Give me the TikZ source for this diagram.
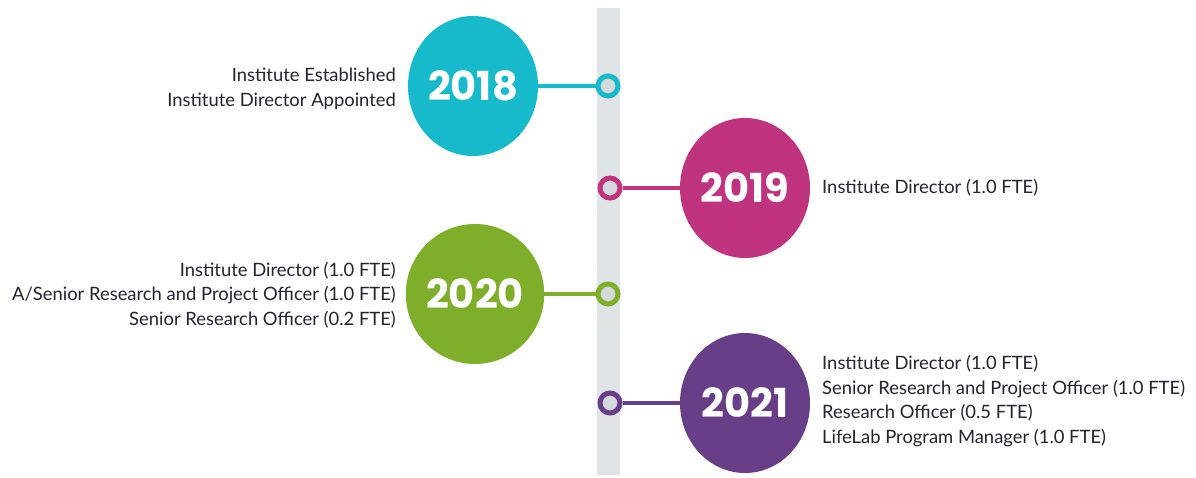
\documentclass[tikz,border=0pt]{standalone}
\usepackage{fontspec}
\setmainfont{Lato}
\newfontfamily\yearfont{Poppins}
\definecolor{bargray}{HTML}{E1E4E7}
\definecolor{ringfill}{HTML}{D5D9DD}
\definecolor{txtdark}{HTML}{24232F}
\definecolor{cTeal}{HTML}{17BACB}
\definecolor{cMag}{HTML}{C0337F}
\definecolor{cGreen}{HTML}{7FAF2A}
\definecolor{cPurple}{HTML}{673E87}
\usetikzlibrary{shapes.geometric}
\tikzset{
  yearbubble/.style={ellipse, minimum width=130pt, minimum height=140pt, inner sep=0pt,
     font=\yearfont\bfseries\fontsize{40}{40}\selectfont, text=white},
  ringdot/.style={circle, minimum size=20pt, inner sep=0pt, line width=5pt, fill=ringfill},
  linkline/.style={line width=4pt},
  infotext/.style={font=\fontsize{18.4}{24.7}\selectfont, text=txtdark, inner sep=0pt, align=#1},
}
\begin{document}
\begin{tikzpicture}[x=1pt,y=-1pt]
\useasboundingbox (0,0) rectangle (1196,477);
\fill[white] (0,0) rectangle (1196,477);
\node[fill=bargray, minimum width=23pt, minimum height=467pt, inner sep=0pt, anchor=north] (bar) at (608.5,8) {};
% 2018
\node[ringdot, draw=cTeal] (r18) at (608,86) {};
\node[yearbubble, fill=cTeal] (y18) at (473,86) {2018};
\draw[linkline, cTeal] (y18.east) -- (r18.west);
\node[infotext=right, anchor=east] (t18) at (396,89) {Institute Established\\Institute Director Appointed};
% 2019
\node[ringdot, draw=cMag] (r19) at (610,188) {};
\node[yearbubble, fill=cMag] (y19) at (745,188) {2019};
\draw[linkline, cMag] (r19.east) -- (y19.west);
\node[infotext=left, anchor=west] (t19) at (822,188) {Institute Director (1.0 FTE)};
% 2020
\node[ringdot, draw=cGreen] (r20) at (608,294) {};
\node[yearbubble, fill=cGreen] (y20) at (475,294) {2020};
\draw[linkline, cGreen] (y20.east) -- (r20.west);
\node[infotext=right, anchor=east] (t20) at (396,295) {Institute Director (1.0 FTE)\\A/Senior Research and Project Officer (1.0 FTE)\\Senior Research Officer (0.2 FTE)};
% 2021
\node[ringdot, draw=cPurple] (r21) at (610,403) {};
\node[yearbubble, fill=cPurple] (y21) at (745,403) {2021};
\draw[linkline, cPurple] (r21.east) -- (y21.west);
\node[infotext=left, anchor=west] (t21) at (822,401) {Institute Director (1.0 FTE)\\Senior Research and Project Officer (1.0 FTE)\\Research Officer (0.5 FTE)\\LifeLab Program Manager (1.0 FTE)};
\end{tikzpicture}
\end{document}
